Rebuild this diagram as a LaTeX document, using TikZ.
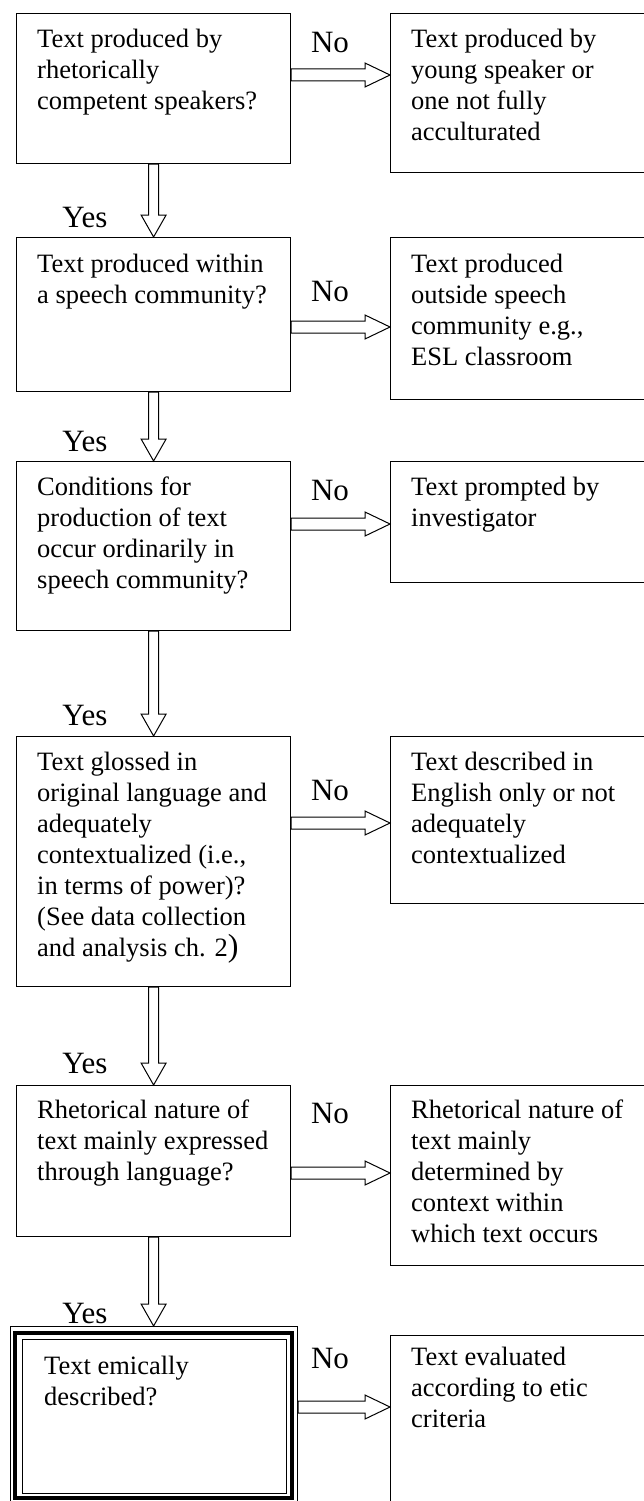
\documentclass[tikz,border=0pt]{standalone}
\usepackage{fontspec}
\setmainfont{Liberation Serif}
\usetikzlibrary{calc}

\tikzset{
  qbox/.style={draw, line width=1.2pt, inner sep=0pt, anchor=north west, minimum width=274pt},
  abox/.style={draw, line width=1.2pt, inner sep=0pt, anchor=north west, minimum width=280pt},
  btext/.style={anchor=north west, inner sep=0pt, align=left, font=\fontsize{26.5}{31}\selectfont},
  yn/.style={inner sep=0pt, font=\fontsize{31}{36}\selectfont},
  hollowright/.style={line width=1pt, to path={
    let \p1=(\tikztostart), \p2=(\tikztotarget) in
    (\x1,\y1+6pt) -- (\x2-25pt,\y1+6pt) -- (\x2-25pt,\y1+12pt) -- (\x2,\y1)
    -- (\x2-25pt,\y1-12pt) -- (\x2-25pt,\y1-6pt) -- (\x1,\y1-6pt) -- cycle}},
  hollowdown/.style={line width=1pt, to path={
    let \p1=(\tikztostart), \p2=(\tikztotarget) in
    (\x1-5pt,\y1) -- (\x1-5pt,\y2+22pt) -- (\x1-12.5pt,\y2+22pt) -- (\x1,\y2)
    -- (\x1+12.5pt,\y2+22pt) -- (\x1+5pt,\y2+22pt) -- (\x1+5pt,\y1) -- cycle}},
}

\begin{document}
\begin{tikzpicture}[x=1pt,y=-1pt]
\useasboundingbox (0,0) rectangle (644,1501);
\clip (0,0) rectangle (644,1501);

\node[qbox, minimum height=150] (q1) at (16,13) {};
\node[qbox, minimum height=154] (q2) at (16,237) {};
\node[qbox, minimum height=169] (q3) at (16,461) {};
\node[qbox, minimum height=250] (q4) at (16,736) {};
\node[qbox, minimum height=151] (q5) at (16,1085) {};
\node[draw, line width=1pt, inner sep=0pt, anchor=north west, minimum width=287, minimum height=176] (q6) at (10,1326) {};
\draw[line width=3.5pt] ($(q6.north west)+(5,7)$) rectangle ($(q6.south east)+(-6,-5)$);
\draw[line width=1pt] ($(q6.north west)+(12,13)$) rectangle ($(q6.south east)+(-12,-10)$);

\node[abox, minimum height=159] (a1) at (390,13) {};
\node[abox, minimum height=162] (a2) at (390,237) {};
\node[abox, minimum height=121] (a3) at (390,461) {};
\node[abox, minimum height=167] (a4) at (390,736) {};
\node[abox, minimum height=180] (a5) at (390,1085) {};
\node[abox, minimum height=190] (a6) at (390,1335) {};

\node[btext] at ($(q1.north west)+(21,16)$) {Text produced by\\rhetorically\\competent speakers?};
\node[btext] at ($(q2.north west)+(21,17)$) {Text produced within\\a speech community?};
\node[btext] at ($(q3.north west)+(21,16)$) {Conditions for\\production of text\\occur ordinarily in\\speech community?};
\node[btext] at ($(q4.north west)+(21,16)$) {Text glossed in\\original language and\\adequately\\contextualized (i.e.,\\in terms of power)?\\(See data collection\\and analysis ch. 2{\fontsize{32}{31}\selectfont)}};
\node[btext] at ($(q5.north west)+(21,15)$) {Rhetorical nature of\\text mainly expressed\\through language?};
\node[btext] at ($(q6.north west)+(34,30)$) {Text emically\\described?};

\node[btext] at ($(a1.north west)+(21,16)$) {Text produced by\\young speaker or\\one not fully\\acculturated};
\node[btext] at ($(a2.north west)+(21,17)$) {Text produced\\outside speech\\community e.g.,\\ESL classroom};
\node[btext] at ($(a3.north west)+(21,16)$) {Text prompted by\\investigator};
\node[btext] at ($(a4.north west)+(21,16)$) {Text described in\\English only or not\\adequately\\contextualized};
\node[btext] at ($(a5.north west)+(21,15)$) {Rhetorical nature of\\text mainly\\determined by\\context within\\which text occurs};
\node[btext] at ($(a6.north west)+(21,12)$) {Text evaluated\\according to etic\\criteria};

\draw[hollowright] (q1.east |- 0,75) to (a1.west);
\draw[hollowright] (q2.east |- 0,327) to (a2.west);
\draw[hollowright] (q3.east |- 0,524) to (a3.west);
\draw[hollowright] (q4.east |- 0,823) to (a4.west);
\draw[hollowright] (q5.east |- 0,1173) to (a5.west);
\draw[hollowright] (q6.east |- 0,1407) to (a6.west);

\draw[hollowdown] (q1.south) to (q2.north);
\draw[hollowdown] (q2.south) to (q3.north);
\draw[hollowdown] (q3.south) to (q4.north);
\draw[hollowdown] (q4.south) to (q5.north);
\draw[hollowdown] (q5.south) to (q6.north);

\node[yn] (no1) at (330,43) {No};
\node[yn] (no2) at (330,292) {No};
\node[yn] (no3) at (330,490) {No};
\node[yn] (no4) at (330,790) {No};
\node[yn] (no5) at (330,1113) {No};
\node[yn] (no6) at (330,1358) {No};

\node[yn] (yes1) at (85,218) {Yes};
\node[yn] (yes2) at (85,441) {Yes};
\node[yn] (yes3) at (85,715) {Yes};
\node[yn] (yes4) at (85,1063) {Yes};
\node[yn] (yes5) at (85,1313) {Yes};
\end{tikzpicture}
\end{document}
